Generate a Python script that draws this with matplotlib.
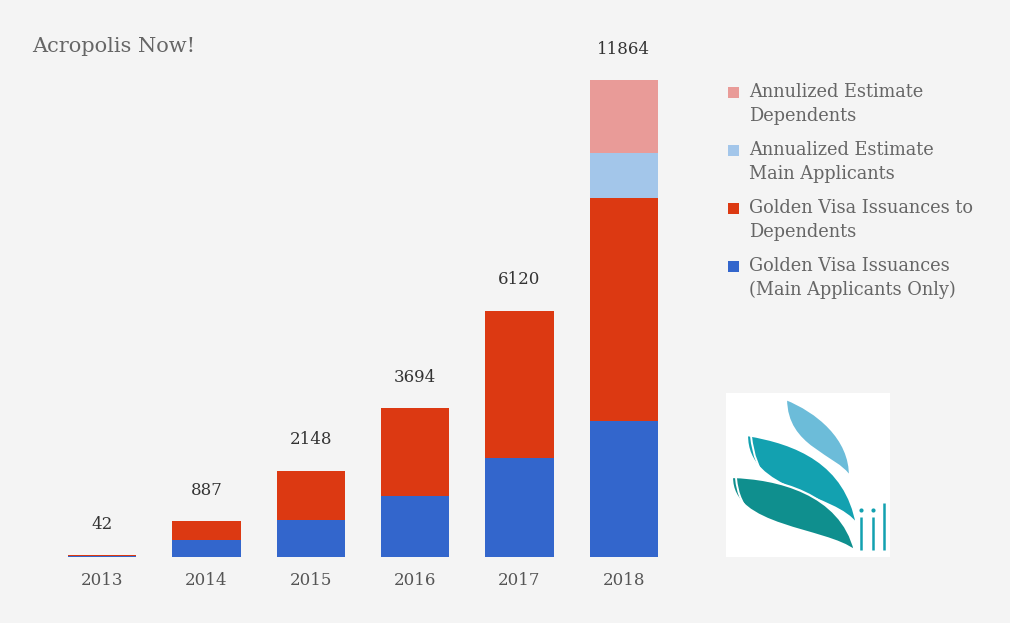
import matplotlib
matplotlib.use("Agg")
import matplotlib.pyplot as plt
from matplotlib.patches import Rectangle, PathPatch
from matplotlib.path import Path
import numpy as np

# ---------------- data ----------------
years = ["2013", "2014", "2015", "2016", "2017", "2018"]
main_applicants = [21, 423, 920, 1517, 2455, 3390]
dependents = [21, 464, 1228, 2177, 3665, 5531]
est_main = [0, 0, 0, 0, 0, 1120]
est_dependents = [0, 0, 0, 0, 0, 1823]
totals = [42, 887, 2148, 3694, 6120, 11864]

series_names = [
    "Golden Visa Issuances\n(Main Applicants Only)",
    "Golden Visa Issuances to\nDependents",
    "Annualized Estimate\nMain Applicants",
    "Annulized Estimate\nDependents",
]
title = "Acropolis Now!"

# ---------------- style ----------------
BG = "#f4f4f4"
colors = ["#3366cc", "#dc3912", "#a3c6ea", "#e99b98"]
SERIF = ["DejaVu Serif"]
W, H = 1010, 623

fig = plt.figure(figsize=(W / 100, H / 100), dpi=100, facecolor=BG)
ax = fig.add_axes([50 / W, 66 / H, 626 / W, 537 / H], facecolor=BG)

x = np.arange(len(years))
series = [main_applicants, dependents, est_main, est_dependents]
bottom = np.zeros(len(years))
for vals, c in zip(series, colors):
    vals = np.array(vals, dtype=float)
    ax.bar(x, vals, bottom=bottom, width=0.652, color=c, linewidth=0)
    bottom += vals

for xi, t in zip(x, totals):
    ax.annotate(str(t), (xi, t), xytext=(0, 31), textcoords="offset pixels",
                ha="center", va="center", fontsize=12, color="#333333",
                family=SERIF)

ax.set_xlim(-0.5, len(years) - 0.5)
ax.set_ylim(0, 11864 * 537 / 477)
ax.set_xticks(x)
ax.set_xticklabels(years, fontsize=12, color="#555555", family=SERIF)
ax.tick_params(axis="x", length=0, pad=11)
ax.set_yticks([])
for s in ax.spines.values():
    s.set_visible(False)

fig.text(32 / W, 1 - 46 / H, title, fontsize=15, color="#666666",
         family=SERIF, ha="left", va="center")

# ---------------- legend (manual) ----------------
entry_y = [92, 150, 208, 266]
legend_order = [3, 2, 1, 0]
for yy, idx in zip(entry_y, legend_order):
    fig.patches.append(Rectangle((728 / W, 1 - (yy + 6) / H), 11 / W, 11 / H,
                                 transform=fig.transFigure, color=colors[idx],
                                 linewidth=0))
    for i, line in enumerate(series_names[idx].split("\n")):
        fig.text(749 / W, 1 - (yy + 24 * i) / H, line, fontsize=12.8,
                 color="#666666", family=SERIF, ha="left", va="center")

# ---------------- logo ----------------
lax = fig.add_axes([726 / W, 66 / H, 164 / W, 164 / H])
lax.set_xlim(0, 164)
lax.set_ylim(164, 0)
lax.axis("off")
lax.add_patch(Rectangle((0, 0), 164, 164, color="white", linewidth=0))

C4 = Path.CURVE4
def leaf(pts, color):
    verts = pts + [pts[0]]
    codes = [Path.MOVETO, C4, C4, C4, C4, C4, C4, Path.CLOSEPOLY]
    lax.add_patch(PathPatch(Path(verts, codes), facecolor=color,
                            edgecolor="white", linewidth=1.6))

def stripe(pts):
    codes = [Path.MOVETO, Path.CURVE3, Path.CURVE3]
    lax.add_patch(PathPatch(Path(pts, codes), facecolor="none",
                            edgecolor="white", linewidth=1.4))

leaf([(60, 6), (90, 18), (125, 45), (124, 84),
      (110, 62), (60, 55), (60, 6)], "#6cbcd9")
leaf([(21, 42), (70, 50), (120, 70), (131, 132),
      (110, 100), (20, 100), (21, 42)], "#13a1b0")
leaf([(6, 84), (50, 85), (115, 100), (129, 158),
      (100, 135), (5, 135), (6, 84)], "#0f8f8e")
stripe([(25, 43), (28, 72), (42, 88)])
stripe([(10, 85), (12, 110), (28, 123)])

logo_c = "#13a1b0"
for xs in (135, 147):
    lax.plot([xs, xs], [124, 157], color=logo_c, lw=1.8, solid_capstyle="butt")
    lax.plot([xs], [117], marker="o", ms=3, color=logo_c, mew=0)
lax.plot([158, 158], [110, 157], color=logo_c, lw=1.8, solid_capstyle="butt")

fig.savefig("out.png", dpi=100, facecolor=BG)
